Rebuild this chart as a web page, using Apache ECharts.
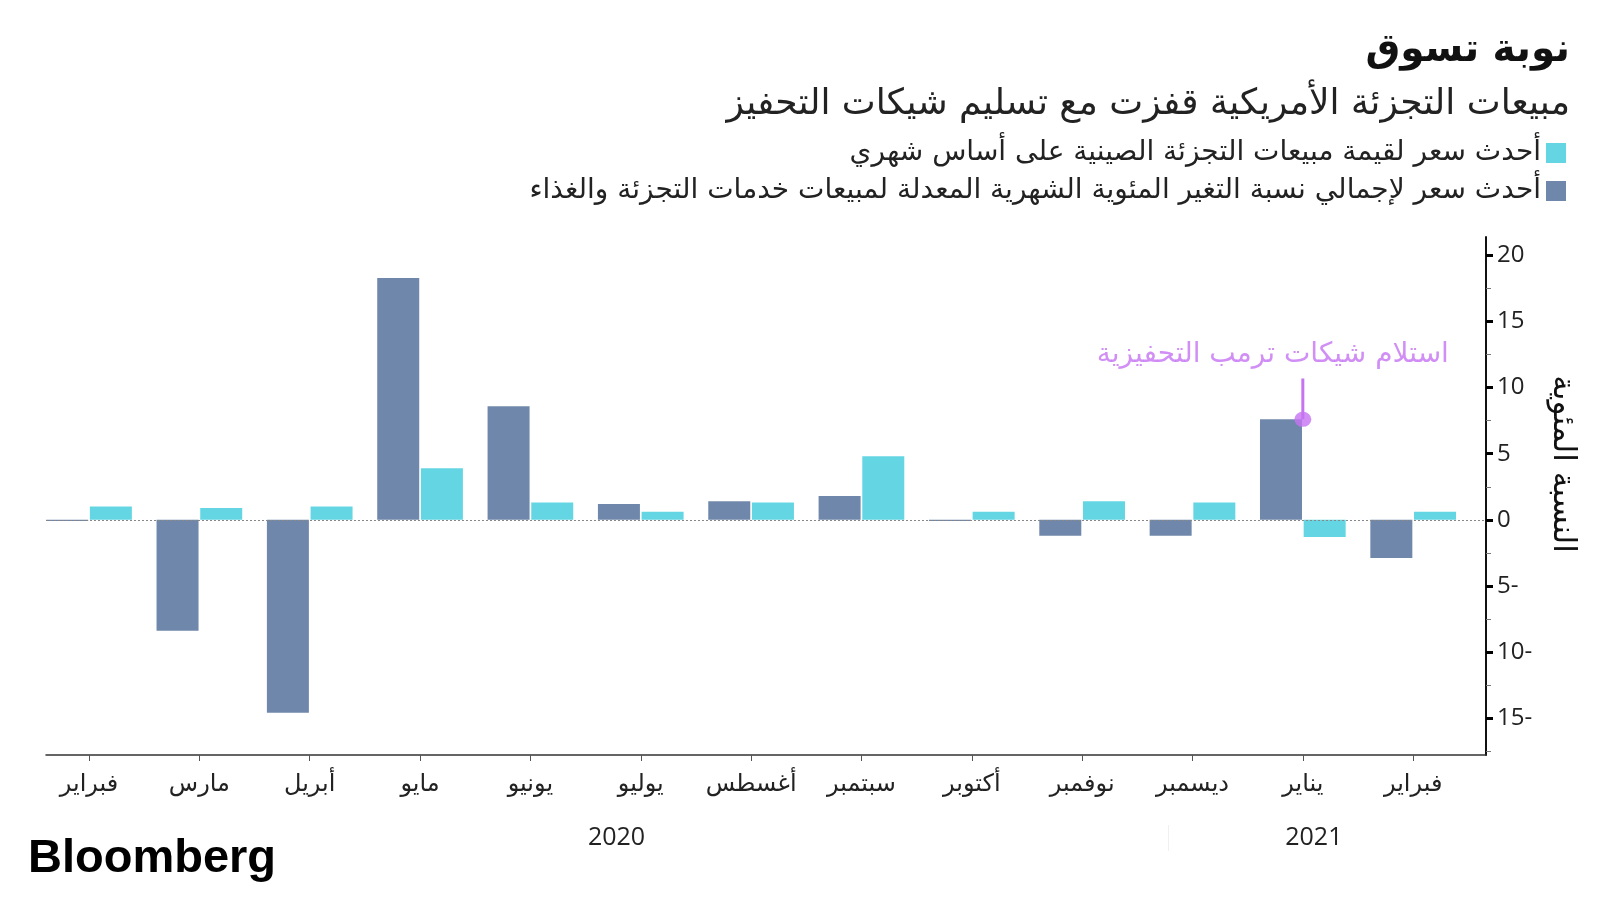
<!DOCTYPE html>
<html>
<head>
<meta charset="utf-8">
<script src="https://cdn.jsdelivr.net/npm/echarts@6/dist/echarts.min.js"></script>
<style>
html,body{margin:0;padding:0;background:#fff;}
#chart{width:1600px;height:900px;}
</style>
</head>
<body>
<div id="chart"></div>
<script>
// ---- data ----
const months = ['فبراير','مارس','أبريل','مايو','يونيو','يوليو','أغسطس','سبتمبر','أكتوبر','نوفمبر','ديسمبر','يناير','فبراير'];
const usSales = [-0.1, -8.4, -14.6, 18.3, 8.6, 1.2, 1.4, 1.8, -0.1, -1.2, -1.2, 7.6, -2.9];
const chinaSales = [1.0, 0.9, 1.0, 3.9, 1.3, 0.6, 1.3, 4.8, 0.6, 1.4, 1.3, -1.3, 0.6];
const yLabelValues = [-15, -10, -5, 0, 5, 10, 15, 20];
const yTickValues = [-17.5, -15, -12.5, -10, -7.5, -5, -2.5, 0, 2.5, 5, 7.5, 10, 12.5, 15, 17.5, 20];
const years = ['2020', '2021'];
const yearAt = [4.78, 11.1];
const annotationText = 'استلام شيكات ترمب التحفيزية';
const annotationIndex = 11;
const annotationTop = 10.7;

const nameUS = 'أحدث سعر لإجمالي نسبة التغير المئوية الشهرية المعدلة لمبيعات خدمات التجزئة والغذاء';
const nameCN = 'أحدث سعر لقيمة مبيعات التجزئة الصينية على أساس شهري';

const AR = '"DejaVu Sans", "Noto Sans", sans-serif';
const NUM = '"Open Sans", "Noto Sans", sans-serif';
const GRAY = '#6f87aa';
const CYAN = '#64d6e3';
const PURPLE = '#c673f2';
const XMIN = -0.39, XMAX = 12.66, YMIN = -17.8, YMAX = 21.4;

const chart = echarts.init(document.getElementById('chart'), null, {renderer: 'canvas'});
const idx = months.map((m, i) => i);

const option = {
  backgroundColor: '#ffffff',
  animation: false,
  title: [
    {text: 'نوبة تسوق', right: 30, top: 31, padding: 0, textStyle: {fontFamily: AR, fontSize: 39, fontWeight: 'bold', color: '#111'}},
    {text: 'مبيعات التجزئة الأمريكية قفزت مع تسليم شيكات التحفيز', right: 30, top: 87, padding: 0, textStyle: {fontFamily: AR, fontSize: 36, fontWeight: 'normal', color: '#222'}},
    {text: 'Bloomberg', left: 28, top: 836, padding: 0, textStyle: {fontFamily: '"Liberation Sans", Arial, sans-serif', fontSize: 47, fontWeight: 'bold', color: '#000'}}
  ],
  legend: {
    data: [nameCN, nameUS],
    orient: 'vertical',
    align: 'right',
    right: 34,
    top: 139,
    padding: 0,
    itemWidth: 20,
    itemHeight: 20,
    itemGap: 10,
    icon: 'rect',
    selectedMode: false,
    textStyle: {fontFamily: AR, fontSize: 28, color: '#222', lineHeight: 28}
  },
  grid: {left: 46, right: 114, top: 237, bottom: 145, containLabel: false},
  xAxis: [
    {
      type: 'value', min: XMIN, max: XMAX,
      axisLine: {show: true, onZero: false, lineStyle: {color: '#333', width: 1.5}},
      axisTick: {show: true, customValues: idx, length: 6, lineStyle: {color: '#555', width: 1}},
      axisLabel: {customValues: idx, formatter: v => months[Math.round(v)], fontFamily: AR, fontSize: 24, color: '#222', margin: 18},
      splitLine: {show: false}
    },
    {
      type: 'value', min: XMIN, max: XMAX, position: 'bottom', offset: 70,
      axisLine: {show: false, onZero: false},
      axisTick: {show: true, customValues: [9.78], length: 26, inside: false, lineStyle: {color: '#f0f0f0', width: 1}},
      axisLabel: {customValues: yearAt, formatter: v => years[yearAt.indexOf(v)], fontFamily: NUM, fontSize: 25, color: '#222', margin: 0},
      splitLine: {show: false}
    }
  ],
  yAxis: [
    {
      type: 'value', position: 'right', min: YMIN, max: YMAX,
      axisLine: {show: true, onZero: false, lineStyle: {color: '#111', width: 2}},
      axisTick: {show: true, customValues: yTickValues, length: 5, lineStyle: {color: '#777', width: 1}},
      axisLabel: {customValues: yLabelValues, formatter: v => v < 0 ? Math.abs(v) + '-' : String(v), fontFamily: NUM, fontSize: 24, color: '#222', margin: 11},
      splitLine: {show: false}
    },
    {
      type: 'value', position: 'right', min: YMIN, max: YMAX,
      axisLine: {show: false, onZero: false},
      axisTick: {show: true, customValues: yLabelValues, length: 7, lineStyle: {color: '#000', width: 3}},
      axisLabel: {show: false},
      splitLine: {show: false}
    }
  ],
  graphic: [
    {type: 'text', x: 1562, y: 464, rotation: -Math.PI / 2,
     style: {text: 'النسبة المئوية', font: '31px ' + AR, fill: '#111', align: 'center', verticalAlign: 'middle'}}
  ],
  series: [
    {
      name: nameUS, type: 'bar', barWidth: 42, barGap: '4%',
      itemStyle: {color: GRAY},
      data: usSales.map((v, i) => [i, v]),
      markLine: {
        silent: true, symbol: 'none', label: {show: false},
        lineStyle: {color: '#888', type: [2, 2], width: 1},
        data: [{yAxis: 0}]
      },
      z: 2
    },
    {
      name: nameCN, type: 'bar', barWidth: 42, barGap: '4%',
      itemStyle: {color: CYAN},
      data: chinaSales.map((v, i) => [i, v]),
      z: 2
    },
    {
      type: 'line', silent: true, symbol: 'none',
      lineStyle: {color: PURPLE, width: 3},
      data: [[annotationIndex, usSales[annotationIndex]], [annotationIndex, annotationTop]],
      z: 5
    },
    {
      type: 'scatter', silent: true, symbol: 'circle', symbolSize: [17, 15],
      itemStyle: {color: PURPLE},
      data: [[annotationIndex, usSales[annotationIndex]]],
      z: 6
    },
    {
      type: 'scatter', silent: true, symbolSize: 0,
      data: [[annotationIndex, annotationTop]],
      label: {show: true, position: 'top', distance: 10, offset: [-30, 0], formatter: annotationText,
              fontFamily: AR, fontSize: 28, color: PURPLE},
      z: 6
    }
  ]
};
chart.setOption(option);
</script>
</body>
</html>
